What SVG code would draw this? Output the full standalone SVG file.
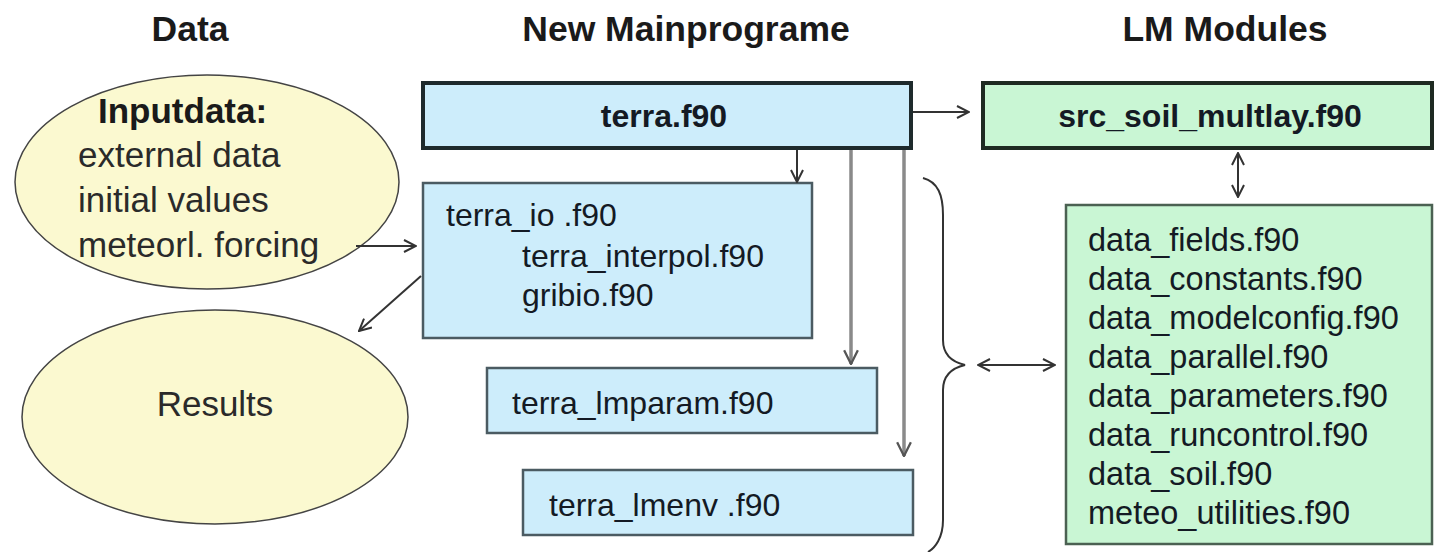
<svg xmlns="http://www.w3.org/2000/svg" width="1440" height="552" viewBox="0 0 1440 552">
<defs>
<marker id="open" viewBox="0 0 14 14" refX="13" refY="7" markerWidth="14" markerHeight="14" markerUnits="userSpaceOnUse" orient="auto-start-reverse">
<path d="M1,1 L13,7 L1,13" fill="none" stroke="#333" stroke-width="2"/>
</marker>
<marker id="openg" viewBox="0 0 14 14" refX="13" refY="7" markerWidth="16" markerHeight="16" markerUnits="userSpaceOnUse" orient="auto">
<path d="M1,1 L13,7 L1,13" fill="none" stroke="#555" stroke-width="2"/>
</marker>
<style>
text{font-family:"Liberation Sans",Arial,sans-serif;fill:#111}
.hdr{font-size:35.5px;font-weight:bold;text-anchor:middle;fill:#1a1a1a}
.ell{fill:#fbf9d0;stroke:#444;stroke-width:1.5}
.et{font-size:35px;fill:#2a2a2a}
.blue{fill:#cdedfb;stroke:#4b5b62;stroke-width:2.5}
.blueB{fill:#cdedfb;stroke:#1e2a2c;stroke-width:4}
.green{fill:#c9f6d4;stroke:#4b6152;stroke-width:2.5}
.greenB{fill:#c9f6d4;stroke:#1e2a22;stroke-width:4}
.bt{font-size:32px;fill:#141a24}
.dt{font-size:32.5px;fill:#141a24}
.bold{font-weight:bold}
.conn{fill:none;stroke:#333;stroke-width:2}
.gray{fill:none;stroke:#8a8a8a;stroke-width:3.5}
</style>
</defs>
<g id="headers">
<text class="hdr" x="190" y="41">Data</text>
<text class="hdr" x="686" y="41">New Mainprograme</text>
<text class="hdr" x="1225" y="41">LM Modules</text>
</g>
<g id="inputdata">
<ellipse class="ell" cx="207" cy="182" rx="192" ry="107"/>
<text class="et bold" x="98" y="123" style="fill:#1a1a1a">Inputdata:</text>
<text class="et" x="78" y="167">external data</text>
<text class="et" x="78" y="212">initial values</text>
<text class="et" x="78" y="257">meteorl. forcing</text>
</g>
<g id="results">
<ellipse class="ell" cx="215" cy="417" rx="193" ry="107"/>
<text class="et" x="215" y="416" text-anchor="middle">Results</text>
</g>
<g id="terra">
<rect class="blueB" x="423" y="83" width="488" height="65"/>
<text class="bt bold" x="664" y="127" text-anchor="middle">terra.f90</text>
</g>
<g id="terra_io">
<rect class="blue" x="423" y="183" width="389" height="155"/>
<text class="bt" x="446" y="226">terra_io .f90</text>
<text class="bt" x="522" y="267">terra_interpol.f90</text>
<text class="bt" x="522" y="306">gribio.f90</text>
</g>
<g id="terra_lmparam">
<rect class="blue" x="487" y="368" width="390" height="65"/>
<text class="bt" x="512" y="414">terra_lmparam.f90</text>
</g>
<g id="terra_lmenv">
<rect class="blue" x="523" y="470" width="390" height="65"/>
<text class="bt" x="549" y="516">terra_lmenv .f90</text>
</g>
<g id="src_soil_multlay">
<rect class="greenB" x="983" y="83" width="449" height="65"/>
<text class="bt bold" x="1210" y="127" text-anchor="middle">src_soil_multlay.f90</text>
</g>
<g id="data_modules">
<rect class="green" x="1066" y="205" width="366" height="339"/>
<text class="dt" x="1088" y="251">data_fields.f90</text>
<text class="dt" x="1088" y="290">data_constants.f90</text>
<text class="dt" x="1088" y="329">data_modelconfig.f90</text>
<text class="dt" x="1088" y="368">data_parallel.f90</text>
<text class="dt" x="1088" y="407">data_parameters.f90</text>
<text class="dt" x="1088" y="446">data_runcontrol.f90</text>
<text class="dt" x="1088" y="485">data_soil.f90</text>
<text class="dt" x="1088" y="524">meteo_utilities.f90</text>
</g>
<g id="connectors">
<line class="conn" x1="913" y1="112" x2="969" y2="112" marker-end="url(#open)"/>
<line class="conn" x1="797" y1="150" x2="797" y2="182" marker-end="url(#open)"/>
<line class="gray" x1="851" y1="150" x2="851" y2="364" marker-end="url(#openg)"/>
<line class="gray" x1="904" y1="150" x2="904" y2="456" marker-end="url(#openg)"/>
<line class="conn" x1="356" y1="246" x2="416" y2="246" marker-end="url(#open)"/>
<line class="conn" x1="421" y1="276" x2="359" y2="331" marker-end="url(#open)"/>
<line class="conn" x1="1238" y1="153" x2="1238" y2="197" marker-start="url(#open)" marker-end="url(#open)"/>
<line class="conn" x1="978" y1="365" x2="1055" y2="365" marker-start="url(#open)" marker-end="url(#open)"/>
<path class="conn" d="M923,178 C938,182 943,195 943,215 L943,340 C943,355 952,362 965,365 C952,368 943,375 943,390 L943,520 C943,538 935,548 928,552"/>
</g>
</svg>
